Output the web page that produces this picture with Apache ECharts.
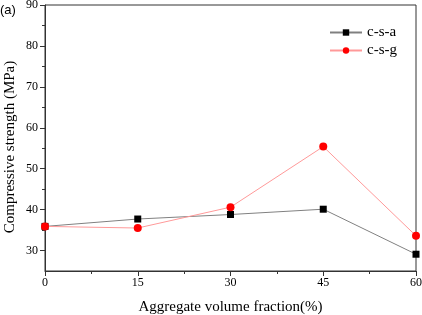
<!DOCTYPE html>
<html><head><meta charset="utf-8">
<script src="https://cdn.jsdelivr.net/npm/echarts@6/dist/echarts.min.js"></script>
<style>html,body{margin:0;padding:0;background:#fff}#c{width:422px;height:315px}</style>
</head><body><div id="c"></div>
<script>
const xValues = [0, 15, 30, 45, 60];
const csa = [35.9, 37.7, 38.8, 40.1, 29.1];
const csg = [35.9, 35.5, 40.6, 55.4, 33.6];
const yMajorTicks = [30, 40, 50, 60, 70, 80, 90];
const yMinorTicks = [35, 45, 55, 65, 75, 85];
const seriesNames = ['c-s-a', 'c-s-g'];
const yTitle = 'Compressive strength (MPa)';
const xTitle = 'Aggregate volume fraction(%)';

const serif = 'Liberation Serif';
const chart = echarts.init(document.getElementById('c'));
chart.setOption({
  animation: false,
  grid: { left: 45, right: 6, top: 5, bottom: 44, outerBoundsMode: 'none', containLabel: false, show: true, borderColor: '#333', borderWidth: 1, backgroundColor: 'transparent' },
  legend: {
    orient: 'vertical', left: 324, top: 20, itemWidth: 32, itemHeight: 8, itemGap: 3,
    textStyle: { fontFamily: serif, fontSize: 15, color: '#000' },
    data: seriesNames
  },
  graphic: [
    { type: 'text', left: 0, top: 4, style: { text: '(a)', font: '13px Liberation Sans', fill: '#000' } },
    { type: 'text', x: 10, y: 147, rotation: Math.PI / 2,
      style: { text: yTitle, font: '15px Liberation Serif', fill: '#000', align: 'center', verticalAlign: 'middle' } }
  ],
  xAxis: {
    type: 'value', min: 0, max: 60, interval: 15,
    name: xTitle, nameLocation: 'middle', nameGap: 29,
    nameTextStyle: { fontFamily: serif, fontSize: 15, color: '#000' },
    axisLine: { show: true, lineStyle: { color: '#333', width: 1 } },
    axisTick: { show: true, length: 5, lineStyle: { color: '#333' } },
    minorTick: { show: true, splitNumber: 2, length: 3, lineStyle: { color: '#333' } },
    axisLabel: { fontFamily: serif, fontSize: 12, color: '#000', margin: 6 },
    splitLine: { show: false }
  },
  yAxis: [{
    type: 'value', min: 25, max: 90,
    axisLine: { show: true, lineStyle: { color: '#333', width: 1 } },
    axisTick: { show: true, length: 5, customValues: yMajorTicks, lineStyle: { color: '#333' } },
    axisLabel: { fontFamily: serif, fontSize: 12, color: '#000', margin: 7, customValues: yMajorTicks },
    splitLine: { show: false }
  }, {
    type: 'value', min: 25, max: 90, position: 'left',
    axisLine: { show: false },
    axisTick: { show: true, length: 3, customValues: yMinorTicks, lineStyle: { color: '#333' } },
    axisLabel: { show: false },
    splitLine: { show: false }
  }],
  series: [{
    name: seriesNames[0], type: 'line', yAxisIndex: 0,
    data: xValues.map((x, i) => [x, csa[i]]),
    symbol: 'rect', symbolSize: 7,
    itemStyle: { color: '#000' },
    lineStyle: { color: '#808080', width: 1 },
    z: 2
  }, {
    name: seriesNames[1], type: 'line', yAxisIndex: 0,
    data: xValues.map((x, i) => [x, csg[i]]),
    symbol: 'circle', symbolSize: 8,
    itemStyle: { color: '#ff0000' },
    lineStyle: { color: '#ff9999', width: 1 },
    z: 3
  }]
});
</script></body></html>
